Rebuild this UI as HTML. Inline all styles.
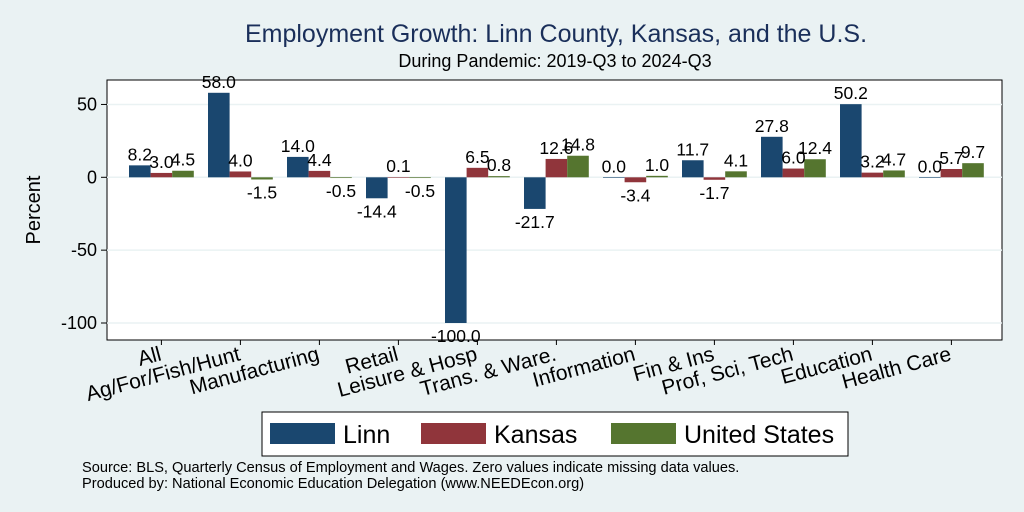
<!DOCTYPE html>
<html><head><meta charset="utf-8"><style>
body{margin:0;background:#eaf2f3;}
svg{display:block;font-family:"Liberation Sans",Arial,sans-serif;}
</style></head><body>
<svg id="chart" width="1024" height="512" viewBox="0 0 1024 512" xmlns="http://www.w3.org/2000/svg">
<rect x="0" y="0" width="1024" height="512" fill="#eaf2f3"/>
<text x="556" y="42" text-anchor="middle" font-size="25" fill="#1a2f5a">Employment Growth: Linn County, Kansas, and the U.S.</text>
<text x="555" y="67" text-anchor="middle" font-size="18" fill="#000">During Pandemic: 2019-Q3 to 2024-Q3</text>
<rect x="107" y="80" width="895" height="260" fill="#fff" stroke="#000" stroke-width="1"/>
<g id="grid"></g>
<g id="bars"></g>
<g id="labels"></g>
<text transform="translate(40,210) rotate(-90)" text-anchor="middle" font-size="20">Percent</text>
<g>
<rect x="262" y="412" width="586" height="44" fill="#fff" stroke="#000"/>
<rect x="270" y="423" width="65" height="21" fill="#1a476f"/>
<text x="343" y="443" font-size="25">Linn</text>
<rect x="421" y="423" width="65" height="21" fill="#90353b"/>
<text x="494" y="443" font-size="25">Kansas</text>
<rect x="611" y="423" width="65" height="21" fill="#55752f"/>
<text x="684" y="443" font-size="25">United States</text>
</g>
<text x="82" y="472" font-size="14.6">Source: BLS, Quarterly Census of Employment and Wages. Zero values indicate missing data values.</text>
<text x="82" y="488" font-size="14.6">Produced by: National Economic Education Delegation (www.NEEDEcon.org)</text>
</svg>
<script>
const categories = ["All","Ag/For/Fish/Hunt","Manufacturing","Retail","Leisure & Hosp","Trans. & Ware.","Information","Fin & Ins","Prof, Sci, Tech","Education","Health Care"];
const linn = [8.2,58.0,14.0,-14.4,-100.0,-21.7,0.0,11.7,27.8,50.2,0.0];
const kansas = [3.0,4.0,4.4,0.1,6.5,12.6,-3.4,-1.7,6.0,3.2,5.7];
const us = [4.5,-1.5,-0.5,-0.5,0.8,14.8,1.0,4.1,12.4,4.7,9.7];
const yTicks = [50,0,-50,-100];
const NS="http://www.w3.org/2000/svg";
function y(v){return 177.3 - v*1.457;}
function gx(i){return 129 + i*79;}
const bw=21.6;
const grid=document.getElementById('grid'),bars=document.getElementById('bars'),labels=document.getElementById('labels');
function mk(tag,attrs,parent){const e=document.createElementNS(NS,tag);for(const k in attrs)e.setAttribute(k,attrs[k]);parent.appendChild(e);return e;}
yTicks.forEach(t=>{
  const l=mk('line',{x1:107,x2:1002,y1:y(t),y2:y(t),stroke:'#eaf2f3','stroke-width':1.5},grid);
  
  
  const tk=mk('line',{x1:101,x2:107,y1:y(t),y2:y(t),stroke:'#000'},grid);
  
  
  const tx=mk('text',{x:97,y:y(t)+6,'text-anchor':'end','font-size':18},grid);
  tx.textContent=t;
  
  
});
const series=[[linn,'#1a476f','linn'],[kansas,'#90353b','kansas'],[us,'#55752f','us']];
categories.forEach((c,i)=>{
  series.forEach((s,j)=>{
    const v=s[0][i];const x=gx(i)+j*bw;
    const y0=y(0),y1=y(v);
    const r=mk('rect',{x:x,y:Math.min(y0,y1),width:bw,height:Math.max(Math.abs(y1-y0),0.6),fill:s[1]},bars);
    
    
    const t=mk('text',{x:x+bw/2,y:v>=0?y1-5:y1+19,'text-anchor':'middle','font-size':17.5},labels);
    t.textContent=v.toFixed(1);
    
    
  });
  const cx=gx(i)+bw*1.5;
  const tk=mk('line',{x1:cx,x2:cx,y1:340,y2:345,stroke:'#000'},labels);
  
  
  const lt=mk('text',{x:cx+1,y:360,'text-anchor':'end','font-size':21,transform:`rotate(-15 ${cx+1} 360)`},labels);
  lt.textContent=c;
  
  
});
</script>
</body></html>
